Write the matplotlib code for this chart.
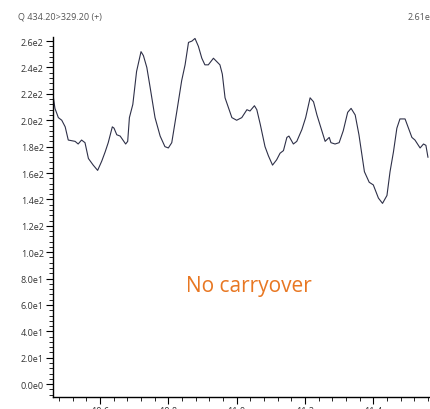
import matplotlib
matplotlib.use('Agg')
import matplotlib.pyplot as plt
from matplotlib.ticker import MultipleLocator, FuncFormatter

# retention time (min) and intensity
times = [10.463, 10.468, 10.478, 10.488, 10.498, 10.507, 10.527, 10.536, 10.546, 10.556,
         10.566, 10.580, 10.593, 10.605, 10.615, 10.624, 10.636, 10.641, 10.649, 10.659,
         10.675, 10.681, 10.686, 10.696, 10.707, 10.720, 10.727, 10.737, 10.746, 10.761,
         10.776, 10.790, 10.800, 10.810, 10.825, 10.839, 10.849, 10.859, 10.869, 10.878,
         10.888, 10.898, 10.907, 10.917, 10.932, 10.951, 10.958, 10.966, 10.974, 10.986,
         11.000, 11.015, 11.030, 11.039, 11.052, 11.059, 11.069, 11.083, 11.093, 11.105,
         11.117, 11.127, 11.137, 11.147, 11.153, 11.166, 11.176, 11.191, 11.202, 11.215,
         11.225, 11.235, 11.247, 11.259, 11.271, 11.276, 11.288, 11.300, 11.312, 11.325,
         11.335, 11.347, 11.358, 11.374, 11.388, 11.400, 11.415, 11.427, 11.440, 11.449,
         11.459, 11.469, 11.478, 11.493, 11.503, 11.513, 11.522, 11.537, 11.547, 11.554,
         11.560]
intensity = [218, 209, 202, 200, 195, 185, 184, 182, 185, 183,
             171, 166, 162, 169, 176, 183, 195, 194, 189, 188,
             182, 184, 202, 212, 237, 252, 249, 240, 226, 202,
             188, 180, 179, 183, 207, 230, 242, 259, 260, 262,
             256, 247, 242, 242, 247, 242, 235, 217, 211, 202,
             200, 202, 208, 207, 211, 208, 197, 180, 173, 166,
             170, 175, 177, 187, 188, 182, 184, 193, 202, 217,
             214, 204, 194, 184, 187, 183, 182, 183, 192, 206,
             209, 204, 189, 161, 153, 151, 141, 137, 143, 161,
             176, 194, 201, 201, 194, 187, 185, 179, 182, 181,
             172]

title_left = 'Q 434.20>329.20 (+)'
title_right = '2.61e2'
note = 'No carryover'

plt.rcParams['font.family'] = ['Open Sans', 'DejaVu Sans']

fig = plt.figure(figsize=(4.3, 4.1), dpi=100)
ax = fig.add_axes([0.1226, 0.0285, 0.8774, 0.8785])

ax.plot(times, intensity, color='#2e3048', linewidth=0.8)

ax.set_xlim(10.4615, 11.566)
ax.set_ylim(-10, 263)

for s in ['top', 'right']:
    ax.spines[s].set_visible(False)
for s in ['left', 'bottom']:
    ax.spines[s].set_linewidth(1.0)
    ax.spines[s].set_color('black')

ax.xaxis.set_major_locator(MultipleLocator(0.2))
ax.xaxis.set_minor_locator(MultipleLocator(0.04))
ax.yaxis.set_major_locator(MultipleLocator(20))
ax.yaxis.set_minor_locator(MultipleLocator(4))


def sci(v, pos):
    if v == 0:
        return '0.0e0'
    e = 0
    m = v
    while abs(m) >= 10:
        m /= 10
        e += 1
    return f'{m:.1f}e{e}'


ax.yaxis.set_major_formatter(FuncFormatter(sci))
ax.tick_params(axis='both', which='major', length=5, width=0.8, labelsize=6.5,
               labelcolor='#333333', pad=1.5)
ax.tick_params(axis='both', which='minor', length=3, width=0.6)

ax.text(0.52, 0.31, note, transform=ax.transAxes, color='#e87722', fontsize=15,
        ha='center', va='center')
fig.text(18 / 430, 1 - 17 / 410, title_left, fontsize=6.5, color='#555555', va='center')
fig.text(408 / 430, 1 - 17 / 410, title_right, fontsize=6.5, color='#555555', va='center')

fig.savefig('out.png', dpi=100)
